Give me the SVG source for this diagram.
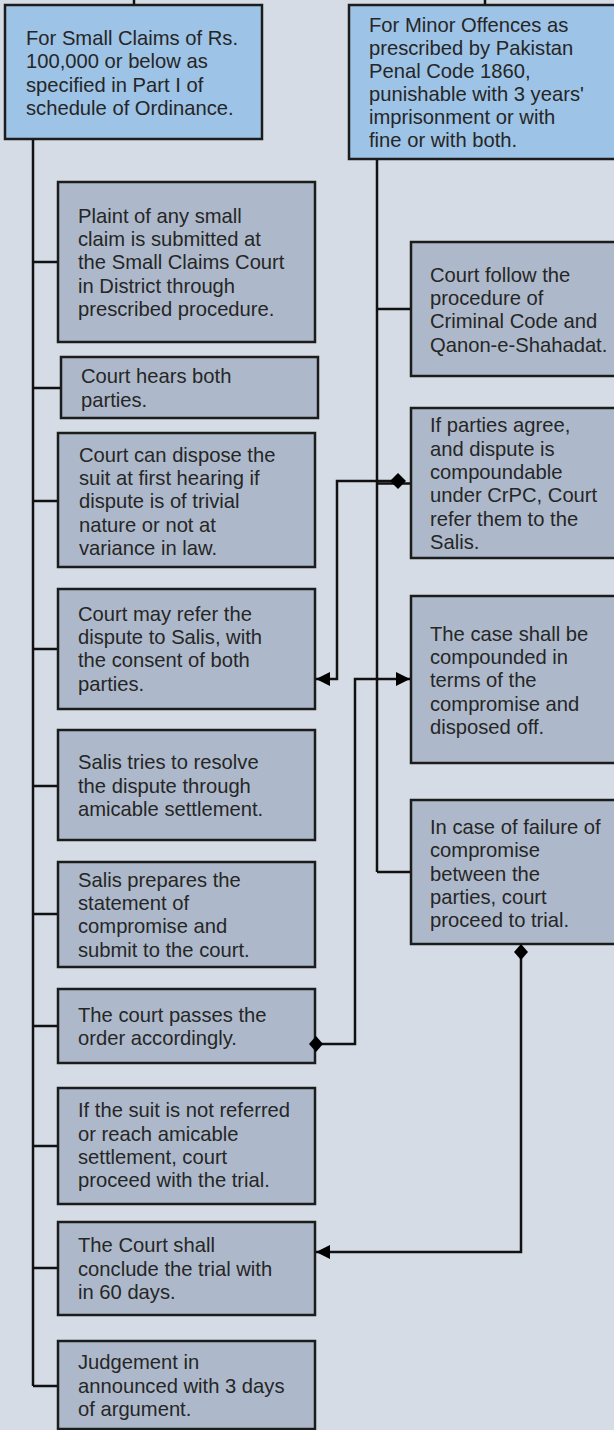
<svg xmlns="http://www.w3.org/2000/svg" width="614" height="1430" viewBox="0 0 614 1430">
<defs>
<style>
.bg{fill:#d6dce5}
.top{fill:#9dc3e6;stroke:#1c1c1c;stroke-width:2.5}
.box{fill:#adb9ca;stroke:#1c1c1c;stroke-width:2.5}
.ln{fill:none;stroke:#111;stroke-width:2.5}
.dia{fill:#000}
text{font-family:"Liberation Sans",Arial,sans-serif;font-size:20.2px;fill:#262626}
</style>
<marker id="arr" markerUnits="userSpaceOnUse" markerWidth="16" markerHeight="16" refX="14" refY="7" orient="auto">
<path d="M0,0 L14,7 L0,14 Z" fill="#000"/>
</marker>
</defs>
<rect class="bg" x="0" y="0" width="614" height="1430"/>

<g id="small-claims">
<rect class="top" x="5" y="5" width="257" height="134"/>
<text x="26" y="45">For Small Claims of Rs.</text>
<text x="26" y="68.3">100,000 or below as</text>
<text x="26" y="91.7">specified in Part I of</text>
<text x="26" y="115">schedule of Ordinance.</text>
</g>

<g id="minor-offences">
<rect class="top" x="349" y="5" width="272" height="154"/>
<text x="369" y="31.7">For Minor Offences as</text>
<text x="369" y="54.7">prescribed by Pakistan</text>
<text x="369" y="77.7">Penal Code 1860,</text>
<text x="369" y="100.7">punishable with 3 years'</text>
<text x="369" y="123.7">imprisonment or with</text>
<text x="369" y="146.7">fine or with both.</text>
</g>

<g id="plaint">
<rect class="box" x="58" y="182" width="257" height="160"/>
<text x="78" y="222.7">Plaint of any small</text>
<text x="78" y="246">claim is submitted at</text>
<text x="78" y="269.3">the Small Claims Court</text>
<text x="78" y="292.7">in District through</text>
<text x="78" y="316">prescribed procedure.</text>
</g>

<g id="hears">
<rect class="box" x="61" y="357" width="257" height="61"/>
<text x="81" y="383.3">Court hears both</text>
<text x="81" y="406.7">parties.</text>
</g>

<g id="dispose">
<rect class="box" x="58" y="433" width="257" height="134"/>
<text x="79" y="461.7">Court can dispose the</text>
<text x="79" y="485">suit at first hearing if</text>
<text x="79" y="508.3">dispute is of trivial</text>
<text x="79" y="531.7">nature or not at</text>
<text x="79" y="555">variance in law.</text>
</g>

<g id="refer-salis">
<rect class="box" x="58" y="589" width="257" height="120"/>
<text x="78" y="620.7">Court may refer the</text>
<text x="78" y="644">dispute to Salis, with</text>
<text x="78" y="667.3">the consent of both</text>
<text x="78" y="690.7">parties.</text>
</g>

<g id="salis-tries">
<rect class="box" x="58" y="730" width="257" height="110"/>
<text x="78" y="769.3">Salis tries to resolve</text>
<text x="78" y="792.7">the dispute through</text>
<text x="78" y="816">amicable settlement.</text>
</g>

<g id="salis-prepares">
<rect class="box" x="58" y="862" width="257" height="105"/>
<text x="78" y="886.7">Salis prepares the</text>
<text x="78" y="910">statement of</text>
<text x="78" y="933.3">compromise and</text>
<text x="78" y="956.7">submit to the court.</text>
</g>

<g id="passes-order">
<rect class="box" x="58" y="989" width="257" height="74"/>
<text x="78" y="1021.7">The court passes the</text>
<text x="78" y="1045">order accordingly.</text>
</g>

<g id="not-referred">
<rect class="box" x="58" y="1088" width="257" height="116"/>
<text x="78" y="1117.3">If the suit is not referred</text>
<text x="78" y="1140.7">or reach amicable</text>
<text x="78" y="1164">settlement, court</text>
<text x="78" y="1187.3">proceed with the trial.</text>
</g>

<g id="conclude">
<rect class="box" x="58" y="1222" width="257" height="93"/>
<text x="78" y="1252.3">The Court shall</text>
<text x="78" y="1275.7">conclude the trial with</text>
<text x="78" y="1299">in 60 days.</text>
</g>

<g id="judgement">
<rect class="box" x="58" y="1341" width="257" height="88"/>
<text x="78" y="1369.3">Judgement in</text>
<text x="78" y="1392.7">announced with 3 days</text>
<text x="78" y="1416">of argument.</text>
</g>

<g id="criminal-code">
<rect class="box" x="411" y="242" width="210" height="134"/>
<text x="430" y="281.7">Court follow the</text>
<text x="430" y="305">procedure of</text>
<text x="430" y="328.3">Criminal Code and</text>
<text x="430" y="351.7">Qanon-e-Shahadat.</text>
</g>

<g id="parties-agree">
<rect class="box" x="411" y="408" width="210" height="150"/>
<text x="430" y="432.3">If parties agree,</text>
<text x="430" y="455.7">and dispute is</text>
<text x="430" y="479">compoundable</text>
<text x="430" y="502.3">under CrPC, Court</text>
<text x="430" y="525.7">refer them to the</text>
<text x="430" y="549">Salis.</text>
</g>

<g id="compounded">
<rect class="box" x="411" y="596" width="210" height="167"/>
<text x="430" y="640.7">The case shall be</text>
<text x="430" y="664">compounded in</text>
<text x="430" y="687.3">terms of the</text>
<text x="430" y="710.7">compromise and</text>
<text x="430" y="734">disposed off.</text>
</g>

<g id="failure">
<rect class="box" x="411" y="800" width="210" height="144"/>
<text x="430" y="834">In case of failure of</text>
<text x="430" y="857.3">compromise</text>
<text x="430" y="880.7">between the</text>
<text x="430" y="904">parties, court</text>
<text x="430" y="927.3">proceed to trial.</text>
</g>

<g id="connectors">
<path class="ln" d="M134 0 V4"/>
<path class="ln" d="M485 0 V4"/>
<path class="ln" d="M33 140 V1386"/>
<path class="ln" d="M33 262 H57 M33 388 H60 M33 501 H57 M33 649 H57 M33 786 H57 M33 914 H57 M33 1026 H57 M33 1146 H57 M33 1268 H57 M33 1386 H57"/>
<path class="ln" d="M377 160 V872"/>
<path class="ln" d="M377 309 H410 M377 483.5 H410 M377 872 H410"/>
<path class="ln" d="M398 481 H337 V679 H316" marker-end="url(#arr)"/>
<polygon class="dia" points="390,481 398,473 406,481 398,489"/>
<path class="ln" d="M316 1044 H355 V679 H410" marker-end="url(#arr)"/>
<polygon class="dia" points="309,1044 316,1036 323,1044 316,1052"/>
<path class="ln" d="M521 952 V1252 H316" marker-end="url(#arr)"/>
<polygon class="dia" points="521,944 528,952 521,960 514,952"/>
</g>
</svg>
